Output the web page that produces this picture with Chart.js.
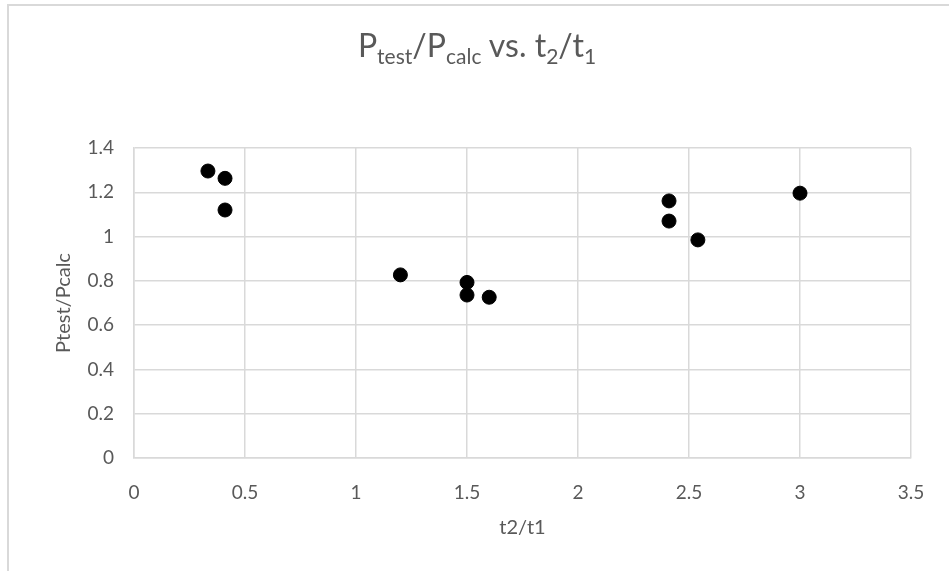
<!DOCTYPE html>
<html>
<head>
<meta charset="utf-8">
<script src="https://cdn.jsdelivr.net/npm/chart.js@4"></script>
<style>
  html, body { margin: 0; padding: 0; background: #fff; }
  #wrap { position: relative; width: 949px; height: 571px; overflow: hidden; }
  #frame { position: absolute; left: 7px; top: 4px; width: 1000px; height: 600px;
           border-top: 2px solid #d9d9d9; border-left: 2px solid #d9d9d9; }
  #title { position: absolute; left: 0; top: 25px; width: 954px; text-align: center;
           font-family: Lato, "Open Sans", sans-serif; font-size: 32px; color: #595959; }
  #title sub { font-size: 21px; vertical-align: -7px; line-height: 0; }
  canvas { position: absolute; left: 0; top: 0; }
</style>
</head>
<body>
<div id="wrap">
  <div id="frame"></div>
  <canvas id="scatter" width="949" height="571"></canvas>
  <div id="title">P<sub>test</sub>/P<sub>calc</sub> vs. t<sub>2</sub>/t<sub>1</sub></div>
</div>
<script>
const ratioT = [0.333, 0.41, 0.41, 1.2, 1.5, 1.5, 1.6, 2.41, 2.41, 2.54, 3.0];
const ratioP = [1.296, 1.263, 1.12, 0.827, 0.793, 0.736, 0.726, 1.161, 1.07, 0.985, 1.196];
const xTicks = [0, 0.5, 1, 1.5, 2, 2.5, 3, 3.5];
const yTicks = [0, 0.2, 0.4, 0.6, 0.8, 1, 1.2, 1.4];

const font = "Lato, 'Open Sans', sans-serif";
const textColor = "#595959";
const gridColor = "#d9d9d9";

new Chart(document.getElementById("scatter").getContext("2d"), {
  type: "scatter",
  data: {
    datasets: [
      {
        label: "Ptest/Pcalc",
        data: ratioT.map((t, i) => ({ x: t, y: ratioP[i] })),
        backgroundColor: "#000",
        borderColor: "#000",
        pointRadius: 7,
        pointHoverRadius: 7,
      },
    ],
  },
  options: {
    responsive: false,
    animation: false,
    layout: { padding: { left: 48, top: 148, right: 38, bottom: 27 } },
    plugins: { legend: { display: false }, tooltip: { enabled: false } },
    scales: {
      x: {
        type: "linear",
        min: 0,
        max: 3.5,
        afterBuildTicks: (s) => { s.ticks = xTicks.map((v) => ({ value: v })); },
        afterFit: (s) => { s.height = 86; },
        grid: { color: gridColor, lineWidth: 1.5, drawTicks: false },
        border: { color: gridColor, width: 1.5 },
        ticks: { color: textColor, font: { family: font, size: 19 }, padding: 23,
                 callback: (v) => String(+v.toFixed(2)) },
        title: { display: true, text: "t2/t1", color: textColor,
                 font: { family: font, size: 20 }, padding: { top: 2 } },
      },
      y: {
        type: "linear",
        min: 0,
        max: 1.4,
        afterBuildTicks: (s) => { s.ticks = yTicks.map((v) => ({ value: v })); },
        afterFit: (s) => { s.width = 86; },
        grid: { color: gridColor, lineWidth: 1.5, drawTicks: false },
        border: { color: gridColor, width: 1.5 },
        ticks: { color: textColor, font: { family: font, size: 19 }, padding: 20,
                 callback: (v) => String(+v.toFixed(2)) },
        title: { display: true, text: "Ptest/Pcalc", color: textColor,
                 font: { family: font, size: 20 } },
      },
    },
  },
});
</script>
</body>
</html>
